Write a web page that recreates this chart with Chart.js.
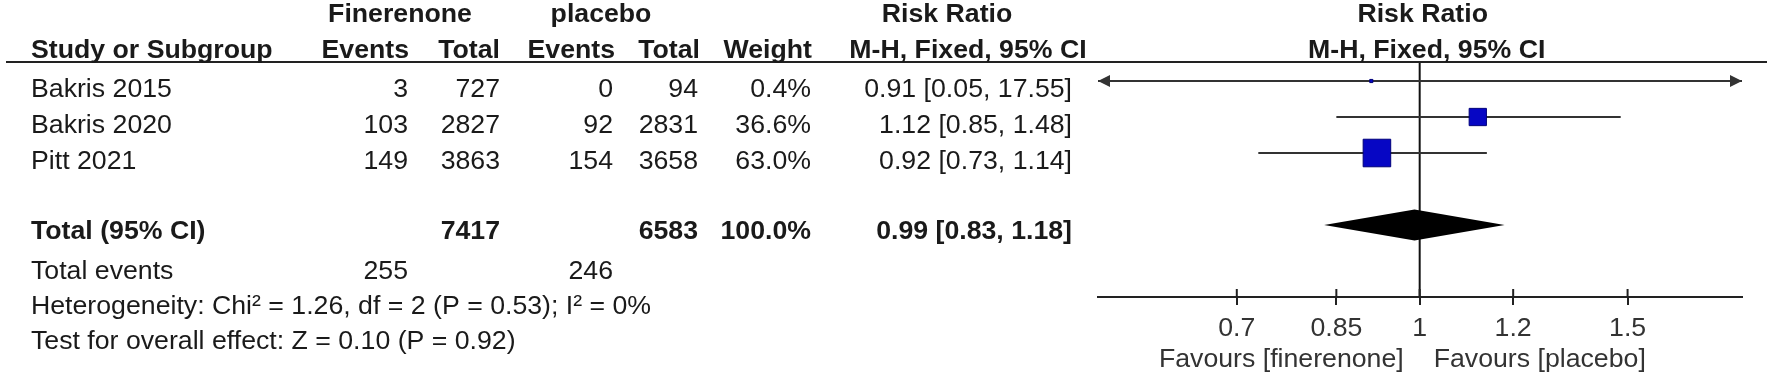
<!DOCTYPE html>
<html>
<head>
<meta charset="utf-8">
<script src="https://cdn.jsdelivr.net/npm/chart.js@4"></script>
<style>
  html, body { margin: 0; padding: 0; background: #fff; }
  #wrap { width: 1772px; height: 380px; }
</style>
</head>
<body>
<div id="wrap"><canvas id="forest"></canvas></div>
<script>
// study data
const studies = ['Bakris 2015', 'Bakris 2020', 'Pitt 2021'];
const finEvents = [3, 103, 149];
const finTotal = [727, 2827, 3863];
const plaEvents = [0, 92, 154];
const plaTotal = [94, 2831, 3658];
const weights = [0.4, 36.6, 63.0];
const riskRatio = [0.91, 1.12, 0.92];
const ciLow = [0.05, 0.85, 0.73];
const ciHigh = [17.55, 1.48, 1.14];

// pooled result
const pooledRR = 0.99;
const pooledLow = 0.83;
const pooledHigh = 1.18;
const totalFin = 7417;
const totalPla = 6583;
const eventsFin = 255;
const eventsPla = 246;
const heterogeneity = 'Heterogeneity: Chi² = 1.26, df = 2 (P = 0.53); I² = 0%';
const overallEffect = 'Test for overall effect: Z = 0.10 (P = 0.92)';

// x axis
const tickValues = [0.7, 0.85, 1, 1.2, 1.5];
const tickLabels = ['0.7', '0.85', '1', '1.2', '1.5'];
const X_MIN = 0.534;
const X_MAX = 1.875;

const FONT = '"Liberation Sans", Arial, sans-serif';
const FS = 26.7;
const totalRow = studies.length + 1;

// column anchors for the table on the left
const COL = {
    name: 31,
    finEv: 408,
    finTot: 500,
    plaEv: 613,
    plaTot: 698,
    weight: 811,
    ci: 1072,
    finHead: 400,
    plaHead: 601,
    rrHead: 947,
    ciHead: 968
};

function fmtCI(est, lo, hi) {
    return est.toFixed(2) + ' [' + lo.toFixed(2) + ', ' + hi.toFixed(2) + ']';
}

function txt(ctx, s, x, y, align, bold, color) {
    ctx.font = (bold ? 'bold ' : '') + FS + 'px ' + FONT;
    ctx.textAlign = align;
    ctx.textBaseline = 'middle';
    ctx.fillStyle = color || '#1a1a1a';
    ctx.fillText(s, x, y);
}

const forestPlugin = {
    id: 'forest',
    beforeDatasetsDraw(chart) {
        const { ctx, chartArea, scales: { x } } = chart;
        const x1 = x.getPixelForValue(1);
        ctx.save();
        ctx.strokeStyle = '#111';
        ctx.lineWidth = 2;
        // line of no effect
        ctx.beginPath();
        ctx.moveTo(x1, chartArea.top);
        ctx.lineTo(x1, chartArea.bottom);
        ctx.stroke();
        // upper half of tick marks
        ctx.strokeStyle = '#222';
        tickValues.forEach(v => {
            const px = x.getPixelForValue(v);
            ctx.beginPath();
            ctx.moveTo(px, chartArea.bottom - 8);
            ctx.lineTo(px, chartArea.bottom);
            ctx.stroke();
        });
        ctx.restore();
    },
    afterDatasetsDraw(chart) {
        const { ctx, chartArea, scales: { x, y } } = chart;
        ctx.save();
        // arrows where a CI runs off the axis
        ctx.fillStyle = '#333';
        studies.forEach((s, i) => {
            const py = y.getPixelForValue(i);
            if (ciLow[i] < X_MIN) {
                ctx.beginPath();
                ctx.moveTo(chartArea.left, py);
                ctx.lineTo(chartArea.left + 12, py - 6);
                ctx.lineTo(chartArea.left + 12, py + 6);
                ctx.closePath();
                ctx.fill();
            }
            if (ciHigh[i] > X_MAX) {
                ctx.beginPath();
                ctx.moveTo(chartArea.right, py);
                ctx.lineTo(chartArea.right - 12, py - 6);
                ctx.lineTo(chartArea.right - 12, py + 6);
                ctx.closePath();
                ctx.fill();
            }
        });
        // pooled diamond
        const dy = y.getPixelForValue(totalRow);
        ctx.fillStyle = '#000';
        ctx.beginPath();
        ctx.moveTo(x.getPixelForValue(pooledLow), dy);
        ctx.lineTo(x.getPixelForValue(pooledRR), dy - 15.5);
        ctx.lineTo(x.getPixelForValue(pooledHigh), dy);
        ctx.lineTo(x.getPixelForValue(pooledRR), dy + 15.5);
        ctx.closePath();
        ctx.fill();
        ctx.restore();
    },
    afterDraw(chart) {
        const { ctx, chartArea, scales: { x, y } } = chart;
        const rowY = r => y.getPixelForValue(r) + 9;
        const x1 = x.getPixelForValue(1);
        ctx.save();

        // header underline
        ctx.strokeStyle = '#222';
        ctx.lineWidth = 2;
        ctx.beginPath();
        ctx.moveTo(6, chartArea.top);
        ctx.lineTo(1767, chartArea.top);
        ctx.stroke();

        // headers
        const h1 = rowY(-2) - 3, h2 = rowY(-1) - 3;
        txt(ctx, 'Finerenone', COL.finHead, h1, 'center', true);
        txt(ctx, 'placebo', COL.plaHead, h1, 'center', true);
        txt(ctx, 'Risk Ratio', COL.rrHead, h1, 'center', true);
        txt(ctx, 'Risk Ratio', x1 + 3, h1, 'center', true);
        txt(ctx, 'Study or Subgroup', COL.name, h2, 'left', true);
        txt(ctx, 'Events', COL.finEv + 1, h2, 'right', true);
        txt(ctx, 'Total', COL.finTot, h2, 'right', true);
        txt(ctx, 'Events', COL.plaEv + 2, h2, 'right', true);
        txt(ctx, 'Total', COL.plaTot + 2, h2, 'right', true);
        txt(ctx, 'Weight', COL.weight + 1, h2, 'right', true);
        txt(ctx, 'M-H, Fixed, 95% CI', COL.ciHead, h2, 'center', true);
        txt(ctx, 'M-H, Fixed, 95% CI', x1 + 7, h2, 'center', true);

        // study rows
        studies.forEach((s, i) => {
            const ty = rowY(i);
            txt(ctx, s, COL.name, ty, 'left');
            txt(ctx, String(finEvents[i]), COL.finEv, ty, 'right');
            txt(ctx, String(finTotal[i]), COL.finTot, ty, 'right');
            txt(ctx, String(plaEvents[i]), COL.plaEv, ty, 'right');
            txt(ctx, String(plaTotal[i]), COL.plaTot, ty, 'right');
            txt(ctx, weights[i].toFixed(1) + '%', COL.weight, ty, 'right');
            txt(ctx, fmtCI(riskRatio[i], ciLow[i], ciHigh[i]), COL.ci, ty, 'right');
        });

        // totals
        const tw = weights.reduce((a, b) => a + b, 0);
        let ty = rowY(totalRow) - 2;
        txt(ctx, 'Total (95% CI)', COL.name, ty, 'left', true);
        txt(ctx, String(totalFin), COL.finTot, ty, 'right', true);
        txt(ctx, String(totalPla), COL.plaTot, ty, 'right', true);
        txt(ctx, tw.toFixed(1) + '%', COL.weight, ty, 'right', true);
        txt(ctx, fmtCI(pooledRR, pooledLow, pooledHigh), COL.ci, ty, 'right', true);

        ty = rowY(totalRow + 1) + 2;
        txt(ctx, 'Total events', COL.name, ty, 'left');
        txt(ctx, String(eventsFin), COL.finEv, ty, 'right');
        txt(ctx, String(eventsPla), COL.plaEv, ty, 'right');
        txt(ctx, heterogeneity, COL.name, rowY(totalRow + 2) + 1, 'left');
        txt(ctx, overallEffect, COL.name, rowY(totalRow + 3), 'left');

        // favours labels under the axis
        const fy = chartArea.bottom + 63;
        txt(ctx, 'Favours [finerenone]', x1 - 16, fy, 'right', false, '#333');
        txt(ctx, 'Favours [placebo]', x1 + 14, fy, 'left', false, '#333');
        ctx.restore();
    }
};

const ciDatasets = studies.map((s, i) => ({
    label: s,
    showLine: true,
    data: [
        { x: Math.max(ciLow[i], X_MIN), y: i },
        { x: Math.min(ciHigh[i], X_MAX), y: i }
    ],
    borderColor: '#333',
    borderWidth: 2,
    pointRadius: 0,
    order: 2
}));

const boxDataset = {
    label: 'Risk ratio',
    data: riskRatio.map((v, i) => ({ x: v, y: i })),
    pointStyle: 'rect',
    pointRadius: weights.map(w => (3 + 0.39 * w) / Math.SQRT2),
    backgroundColor: '#0606c4',
    borderColor: '#00007a',
    borderWidth: 1,
    order: 1
};

new Chart(document.getElementById('forest'), {
    type: 'scatter',
    data: { datasets: [boxDataset].concat(ciDatasets) },
    options: {
        responsive: true,
        maintainAspectRatio: false,
        animation: false,
        layout: { padding: { left: 1098, right: 30, top: 62, bottom: 0 } },
        plugins: {
            legend: { display: false },
            tooltip: { enabled: false }
        },
        scales: {
            x: {
                type: 'logarithmic',
                min: X_MIN,
                max: X_MAX,
                afterBuildTicks: scale => {
                    scale.ticks = tickValues.map(v => ({ value: v }));
                },
                afterFit: scale => {
                    scale.height = 83;
                },
                ticks: {
                    autoSkip: false,
                    maxRotation: 0,
                    padding: 8,
                    color: '#333',
                    font: { family: FONT, size: FS },
                    callback: v => {
                        const k = tickValues.indexOf(v);
                        return k >= 0 ? tickLabels[k] : '';
                    }
                },
                grid: {
                    drawOnChartArea: false,
                    drawTicks: true,
                    tickLength: 8,
                    color: '#222',
                    lineWidth: 2
                },
                border: { display: true, color: '#222', width: 2 }
            },
            y: {
                type: 'linear',
                min: -0.528,
                max: 6.0,
                reverse: true,
                display: false
            }
        }
    },
    plugins: [forestPlugin]
});
</script>
</body>
</html>
